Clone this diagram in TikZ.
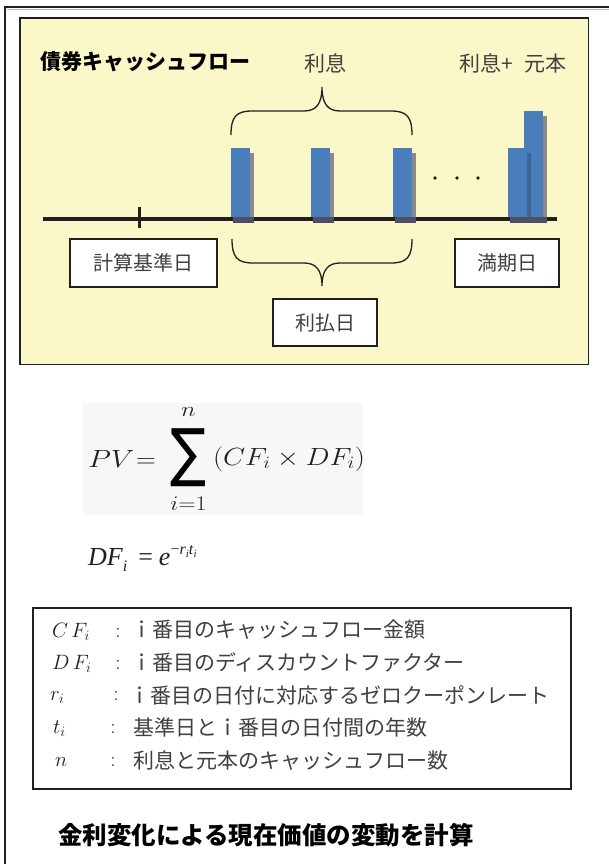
\documentclass[tikz,border=0pt]{standalone}
\usepackage{fontspec}
\usepackage{graphicx}
\usepackage{tikz}
\newfontfamily\jp{Noto Sans CJK JP}
\newfontfamily\tms{Liberation Serif}
\newfontfamily\dvs{DejaVu Sans}
\definecolor{cream}{HTML}{FAF7C8}
\definecolor{barblue}{HTML}{4A7EBB}
\definecolor{bardark}{HTML}{3C6496}
\definecolor{barshadow}{HTML}{8A8A8A}
\definecolor{barbase}{HTML}{4C5064}
\definecolor{ink}{HTML}{231F20}
\definecolor{txt}{HTML}{404040}
\tikzset{
  jptext/.style={font={\jp\fontsize{21}{21}\selectfont}, text=txt},
  datebox/.style={draw=ink, line width=1.5pt, fill=white, minimum height=48pt, font={\jp\fontsize{20}{20}\selectfont}, text=txt},
  brace/.style={draw=ink, line width=1.3pt},
  symb/.style={font={\fontsize{21}{21}\selectfont}, text=ink},
  deftext/.style={font={\jp\fontsize{21}{21}\selectfont}, text=txt},
  mathtxt/.style={font={\fontsize{23}{23}\selectfont}, text=ink},
}
\newcommand\cfbar[2]{%
  \fill[barshadow] (#1+3,#2+5) rectangle (#1+23,223);
  \fill[barblue] (#1,#2) rectangle (#1+19,217);
  \fill[barbase] (#1+2,216.5) rectangle (#1+23,223);
}
\begin{document}
\begin{tikzpicture}[x=1pt,y=-1pt, every node/.style={inner sep=0pt, outer sep=0pt}]
\useasboundingbox (0,0) rectangle (609,864);
\fill[white] (0,0) rectangle (609,864);
% outer frame
\draw[gray!55, line width=0.8pt] (7,9.9) -- (609,9.9);
\draw[ink, line width=1.6pt] (609,7.3) -- (4.8,7.3) -- (4.8,864);
% yellow panel
\draw[ink, line width=1.6pt, fill=cream] (20,18) rectangle (588.5,364.5);
% titles
\node[anchor=west, font={\jp\bfseries\fontsize{21}{21}\selectfont}, text=black] (title) at (40,62) {債券キャッシュフロー};
\node[anchor=west, jptext] (interest) at (304,63) {利息};
\node[anchor=west, jptext] (final) at (459,63) {利息+\hspace{12pt}元本};
% top brace
\coordinate (tbL) at (231,135);
\coordinate (tbT) at (322,87);
\coordinate (tbR) at (412,135);
\draw[brace] (tbL) .. controls (231,117) and (236,111) .. (252,111) -- (304,111) .. controls (316,111) and (322,104) .. (tbT) .. controls (322,104) and (328,111) .. (340,111) -- (391,111) .. controls (407,111) and (412,117) .. (tbR);
% axis
\draw[ink, line width=4.5pt] (43,219) -- (557,219);
\draw[ink, line width=3pt] (139,207) -- (139,228);
% bars
\cfbar{231}{148}
\cfbar{311}{148}
\cfbar{393}{148}
\cfbar{524}{111}
\fill[bardark] (527,153) rectangle (531,217);
\fill[barblue] (508,148) rectangle (527,217);
\fill[barbase] (510,216.5) rectangle (547,223);
% dots
\fill[ink] (435,178) circle (1.8);
\fill[ink] (457,178) circle (1.8);
\fill[ink] (478,178) circle (1.8);
% bottom brace
\coordinate (bbL) at (232,239);
\coordinate (bbT) at (322,286);
\coordinate (bbR) at (412,239);
\draw[brace] (bbL) .. controls (232,257) and (237,263) .. (253,263) -- (304,263) .. controls (316,263) and (322,270) .. (bbT) .. controls (322,270) and (328,263) .. (340,263) -- (391,263) .. controls (407,263) and (412,257) .. (bbR);
% date boxes
\node[datebox, minimum width=147pt] (base) at (143.5,263) {計算基準日};
\node[datebox, minimum width=104pt] (mat) at (507,263) {満期日};
\node[datebox, minimum width=104pt, minimum height=47pt] (pay) at (325,322.5) {利払日};
% formula background
\fill[black!3] (83,403) rectangle (363,515);
% PV formula
\node[anchor=base west, mathtxt] (pv) at (88,467) {\scalebox{1.2}[1]{$PV$}};
\node[anchor=base west, mathtxt] (eq) at (136,467) {\scalebox{1.1}[1]{$=$}};
\node (sig) at (188.5,458) {\resizebox*{36pt}{58pt}{\dvs ∑}};
\node[anchor=base, font={\fontsize{20}{20}\selectfont}, text=ink] (up) at (188.5,416) {\scalebox{1.2}[1]{$n$}};
\node[anchor=base, font={\fontsize{20}{20}\selectfont}, text=ink] (lo) at (188.5,510) {\scalebox{1.15}[1]{$i{=}1$}};
\node[anchor=base west, mathtxt] (par) at (213,465) {\scalebox{1.15}[1]{$(CF_i\times DF_i)$}};
% DF formula
\node[anchor=base west, font={\tms\fontsize{26}{26}\selectfont}, text=ink] (df) at (88,565) {\textit{DF}\raisebox{-6pt}{\fontsize{16}{16}\selectfont\textit{i}}\hspace{11pt}=\hspace{6pt}\textit{e}\raisebox{11pt}{\fontsize{16}{16}\selectfont −\textit{r}\raisebox{-3pt}{\fontsize{11}{11}\selectfont\textit{i}}\textit{t}\raisebox{-3pt}{\fontsize{11}{11}\selectfont\textit{i}}}};
% definitions box
\node[draw=ink, line width=1.5pt, minimum width=538pt, minimum height=181pt] (defs) at (302,698.5) {};
\node[anchor=base west, symb] (s1) at (52,637) {$C\,F_i$};
\node[anchor=base west, symb] (s2) at (52,669) {$D\,F_i$};
\node[anchor=base west, symb] (s3) at (50,700) {$r_i$};
\node[anchor=base west, symb] (s4) at (53,733) {$t_i$};
\node[anchor=base west, symb] (s5) at (55,766) {$n$};
\node[anchor=base, symb] (c1) at (118,637) {:};
\node[anchor=base, symb] (c2) at (118,669) {:};
\node[anchor=base, symb] (c3) at (116,700) {:};
\node[anchor=base, symb] (c4) at (113,733) {:};
\node[anchor=base, symb] (c5) at (113,766) {:};
\node[anchor=west, deftext] (d1) at (131,630) {ｉ番目のキャッシュフロー金額};
\node[anchor=west, deftext] (d2) at (131,662) {ｉ番目のディスカウントファクター};
\node[anchor=west, deftext] (d3) at (129,695) {ｉ番目の日付に対応するゼロクーポンレート};
\node[anchor=west, deftext] (d4) at (133,727) {基準日とｉ番目の日付間の年数};
\node[anchor=west, deftext] (d5) at (133,761) {利息と元本のキャッシュフロー数};
% conclusion
\node[anchor=west, font={\jp\bfseries\fontsize{24.5}{24.5}\selectfont}, text=black] (concl) at (58,835) {金利変化による現在価値の変動を計算};
\end{tikzpicture}
\end{document}
